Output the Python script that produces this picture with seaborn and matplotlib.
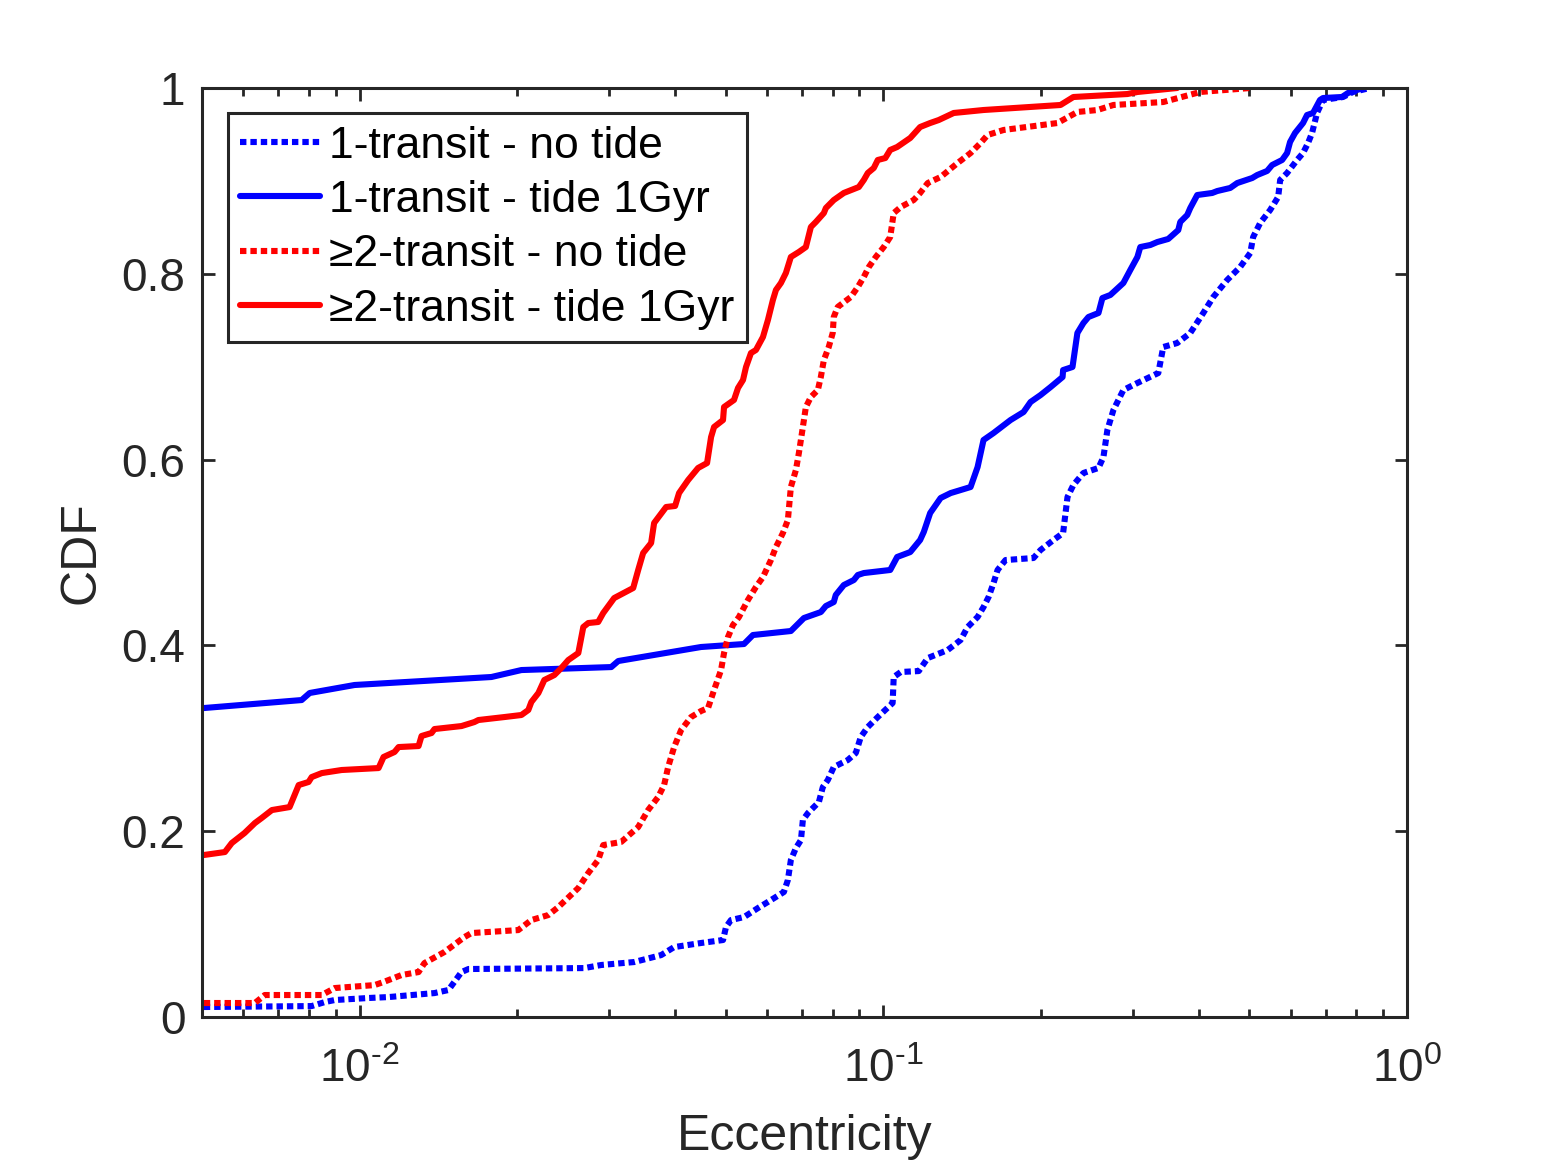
import matplotlib
matplotlib.use("Agg")
import matplotlib.pyplot as plt
import seaborn as sns
from matplotlib.ticker import LogLocator, NullFormatter, FixedLocator

# eccentricity / CDF values
ecc_1t_notide = [0.00504, 0.00810, 0.00858, 0.00896, 0.01040, 0.01136, 0.01390, 0.01478, 0.01565, 0.01614,
                 0.02685, 0.02892, 0.03344, 0.03766, 0.03987, 0.04488, 0.04943, 0.05008, 0.05119, 0.05420,
                 0.05763, 0.06102, 0.06460, 0.06574, 0.06661, 0.06810, 0.06963, 0.07022, 0.07181, 0.07534,
                 0.07667, 0.07836, 0.08044, 0.08554, 0.08862, 0.09058, 0.09342, 0.09761, 0.1042, 0.1047,
                 0.1080, 0.1169, 0.1216, 0.1327, 0.1405, 0.1449, 0.1514, 0.1554, 0.1589, 0.1624,
                 0.1653, 0.1712, 0.1936, 0.1997, 0.2114, 0.2205, 0.2248, 0.2307, 0.2411, 0.2576,
                 0.2633, 0.2679, 0.2751, 0.2874, 0.3057, 0.3351, 0.3425, 0.3642, 0.3857, 0.4084,
                 0.4267, 0.4536, 0.4803, 0.5021, 0.5086, 0.5245, 0.5481, 0.5677, 0.5727, 0.5904,
                 0.6169, 0.6333, 0.6474, 0.6589, 0.6735, 0.6914, 0.7548, 0.7889, 0.8502]
cdf_1t_notide = [0.0108, 0.0118, 0.0161, 0.0183, 0.0205, 0.0215, 0.0258, 0.0291, 0.0484, 0.0517,
                 0.0527, 0.0560, 0.0592, 0.0667, 0.0753, 0.0797, 0.0829, 0.0969, 0.1044, 0.1076,
                 0.1173, 0.1259, 0.1346, 0.1475, 0.1690, 0.1819, 0.1905, 0.2121, 0.2196, 0.2314,
                 0.2476, 0.2551, 0.2691, 0.2766, 0.2842, 0.3014, 0.3122, 0.3229, 0.3380, 0.3660,
                 0.3714, 0.3724, 0.3864, 0.3950, 0.4058, 0.4198, 0.4306, 0.4413, 0.4521, 0.4672,
                 0.4812, 0.4919, 0.4941, 0.5027, 0.5135, 0.5210, 0.5597, 0.5727, 0.5856, 0.5910,
                 0.6028, 0.6319, 0.6534, 0.6749, 0.6825, 0.6932, 0.7212, 0.7255, 0.7363, 0.7578,
                 0.7750, 0.7933, 0.8073, 0.8224, 0.8396, 0.8547, 0.8687, 0.8827, 0.9010, 0.9085,
                 0.9225, 0.9300, 0.9408, 0.9516, 0.9731, 0.9871, 0.9903, 0.9957, 1.0]

ecc_1t_tide = [0.00504, 0.00775, 0.00803, 0.00978, 0.01785, 0.02037, 0.03024, 0.03118, 0.04488, 0.05420,
               0.05638, 0.06661, 0.07055, 0.07599, 0.07769, 0.08044, 0.08115, 0.08407, 0.08786, 0.08942,
               0.09180, 0.1031, 0.1063, 0.1126, 0.1176, 0.1195, 0.1229, 0.1287, 0.1345, 0.1468,
               0.1514, 0.1554, 0.1624, 0.1750, 0.1853, 0.1911, 0.1997, 0.2087, 0.2200, 0.2205,
               0.2298, 0.2348, 0.2411, 0.2465, 0.2576, 0.2621, 0.2714, 0.2874, 0.2963, 0.3057,
               0.3096, 0.3236, 0.3337, 0.3501, 0.3659, 0.3691, 0.3806, 0.3857, 0.3977, 0.4248,
               0.4343, 0.4598, 0.4742, 0.5064, 0.5176, 0.5408, 0.5528, 0.5776, 0.5904, 0.5982,
               0.6115, 0.6333, 0.6445, 0.6617, 0.6823, 0.6914, 0.7516, 0.7716, 0.8243]
cdf_1t_tide = [0.3326, 0.3412, 0.3488, 0.3574, 0.3660, 0.3735, 0.3767, 0.3832, 0.3983, 0.4015,
               0.4112, 0.4155, 0.4295, 0.4359, 0.4424, 0.4467, 0.4543, 0.4650, 0.4704, 0.4758,
               0.4779, 0.4812, 0.4952, 0.5005, 0.5135, 0.5221, 0.5425, 0.5587, 0.5640, 0.5705,
               0.5920, 0.6211, 0.6286, 0.6426, 0.6512, 0.6620, 0.6695, 0.6781, 0.6889, 0.6964,
               0.6997, 0.7363, 0.7470, 0.7535, 0.7578, 0.7739, 0.7772, 0.7901, 0.8041, 0.8181,
               0.8288, 0.8310, 0.8342, 0.8375, 0.8471, 0.8558, 0.8633, 0.8708, 0.8848, 0.8870,
               0.8891, 0.8924, 0.8977, 0.9031, 0.9063, 0.9107, 0.9171, 0.9225, 0.9300, 0.9419,
               0.9516, 0.9623, 0.9709, 0.9731, 0.9871, 0.9892, 0.9903, 0.9946, 1.0]

ecc_2t_notide = [0.00504, 0.00631, 0.00659, 0.00847, 0.00896, 0.01068, 0.01111, 0.01202, 0.01296, 0.01330,
                 0.01452, 0.01586, 0.01635, 0.02009, 0.02128, 0.02293, 0.02396, 0.02616, 0.02733, 0.02855,
                 0.02919, 0.03158, 0.03404, 0.03556, 0.03716, 0.03815, 0.03883, 0.03987, 0.04111, 0.04295,
                 0.04488, 0.04628, 0.04752, 0.04900, 0.04965, 0.05052, 0.05164, 0.05302, 0.05515, 0.05713,
                 0.05892, 0.06102, 0.06238, 0.06432, 0.06574, 0.06661, 0.06810, 0.06900, 0.07022, 0.07115,
                 0.07274, 0.07500, 0.07599, 0.07701, 0.07868, 0.08007, 0.08044, 0.08185, 0.08670, 0.08942,
                 0.09180, 0.09384, 0.09676, 0.1002, 0.1031, 0.1047, 0.1080, 0.1143, 0.1176, 0.1216,
                 0.1287, 0.1387, 0.1468, 0.1534, 0.1582, 0.1697, 0.2151, 0.2348, 0.2564, 0.2751,
                 0.3425, 0.4030, 0.5021]
cdf_2t_notide = [0.0151, 0.0151, 0.0237, 0.0237, 0.0312, 0.0344, 0.0377, 0.0452, 0.0484, 0.0581,
                 0.0700, 0.0861, 0.0904, 0.0936, 0.1044, 0.1098, 0.1184, 0.1389, 0.1550, 0.1690,
                 0.1851, 0.1884, 0.2045, 0.2228, 0.2368, 0.2497, 0.2691, 0.2906, 0.3089, 0.3229,
                 0.3294, 0.3326, 0.3520, 0.3735, 0.3918, 0.4090, 0.4220, 0.4306, 0.4489, 0.4629,
                 0.4736, 0.4919, 0.5059, 0.5210, 0.5350, 0.5705, 0.5888, 0.6071, 0.6351, 0.6566,
                 0.6674, 0.6749, 0.6889, 0.7072, 0.7212, 0.7363, 0.7535, 0.7643, 0.7750, 0.7858,
                 0.7966, 0.8073, 0.8181, 0.8288, 0.8396, 0.8654, 0.8719, 0.8794, 0.8870, 0.8977,
                 0.9042, 0.9193, 0.9300, 0.9408, 0.9494, 0.9548, 0.9623, 0.9742, 0.9763, 0.9817,
                 0.9849, 0.9957, 1.0]

ecc_2t_tide = [0.00504, 0.00553, 0.00570, 0.00603, 0.00631, 0.00650, 0.00680, 0.00735, 0.00765, 0.00799,
               0.00810, 0.00847, 0.00924, 0.01087, 0.01111, 0.01166, 0.01187, 0.01296, 0.01313, 0.01372,
               0.01390, 0.01565, 0.01656, 0.01686, 0.01890, 0.02037, 0.02100, 0.02128, 0.02195, 0.02253,
               0.02354, 0.02428, 0.02504, 0.02616, 0.02674, 0.02733, 0.02855, 0.02919, 0.03063, 0.03330,
               0.03404, 0.03479, 0.03603, 0.03651, 0.03849, 0.04004, 0.04074, 0.04240, 0.04430, 0.04608,
               0.04690, 0.04752, 0.04943, 0.04965, 0.05187, 0.05280, 0.05397, 0.05469, 0.05589, 0.05713,
               0.05892, 0.06022, 0.06155, 0.06238, 0.06376, 0.06517, 0.06661, 0.06900, 0.07115, 0.07274,
               0.07435, 0.07701, 0.07769, 0.08044, 0.08407, 0.08981, 0.09180, 0.09342, 0.09592, 0.09761,
               0.1009, 0.1031, 0.1063, 0.1126, 0.1176, 0.1229, 0.1276, 0.1363, 0.1554, 0.2180,
               0.2307, 0.2925, 0.3057, 0.3642]
cdf_2t_tide = [0.1744, 0.1776, 0.1873, 0.1981, 0.2088, 0.2142, 0.2228, 0.2260, 0.2497, 0.2530,
               0.2583, 0.2626, 0.2659, 0.2680, 0.2799, 0.2853, 0.2906, 0.2917, 0.3025, 0.3057,
               0.3100, 0.3132, 0.3175, 0.3197, 0.3229, 0.3251, 0.3305, 0.3391, 0.3488, 0.3628,
               0.3681, 0.3757, 0.3843, 0.3918, 0.4198, 0.4241, 0.4252, 0.4349, 0.4510, 0.4618,
               0.4812, 0.4995, 0.5102, 0.5318, 0.5490, 0.5501, 0.5640, 0.5780, 0.5910, 0.5963,
               0.6243, 0.6351, 0.6426, 0.6566, 0.6642, 0.6771, 0.6857, 0.6997, 0.7147, 0.7180,
               0.7320, 0.7503, 0.7718, 0.7826, 0.7901, 0.8009, 0.8181, 0.8235, 0.8288, 0.8504,
               0.8558, 0.8654, 0.8708, 0.8794, 0.8870, 0.8934, 0.9010, 0.9085, 0.9139, 0.9225,
               0.9246, 0.9333, 0.9365, 0.9462, 0.9580, 0.9623, 0.9655, 0.9731, 0.9763, 0.9817,
               0.9903, 0.9935, 0.9957, 1.0]

labels = ["1-transit - no tide", "1-transit - tide 1Gyr",
          "\u22652-transit - no tide", "\u22652-transit - tide 1Gyr"]
xtick_vals = [0.01, 0.1, 1]
xtick_text = ['10$^{\\text{-2}}$', '10$^{\\text{-1}}$', '10$^{\\text{0}}$']

sns.set_style("ticks")
plt.rcParams['font.family'] = ['Liberation Sans', 'DejaVu Sans']
plt.rcParams['mathtext.fontset'] = 'custom'
plt.rcParams['mathtext.rm'] = 'Liberation Sans'
plt.rcParams['mathtext.default'] = 'regular'
plt.rcParams['axes.unicode_minus'] = False

dark = '#262626'
dot = (0, (1.05, 0.65))

fig = plt.figure(figsize=(15.56, 11.67), dpi=100)
ax = fig.add_axes([0.1298, 0.1285, 0.7744, 0.7961])

series = [
    (ecc_1t_notide, cdf_1t_notide, 'blue', dot),
    (ecc_1t_tide, cdf_1t_tide, 'blue', '-'),
    (ecc_2t_notide, cdf_2t_notide, 'red', dot),
    (ecc_2t_tide, cdf_2t_tide, 'red', '-'),
]
for (xs, ys, col, ls), lab in zip(series, labels):
    sns.lineplot(x=xs, y=ys, ax=ax, color=col, linestyle=ls, lw=4.4,
                 estimator=None, sort=False, label=lab)

ax.set_xscale('log')
ax.set_xlim(0.005, 1)
ax.set_ylim(0, 1)
ax.xaxis.set_major_locator(FixedLocator(xtick_vals))
ax.set_xticklabels(xtick_text)
ax.xaxis.set_minor_locator(LogLocator(base=10, subs=range(2, 10), numticks=20))
ax.xaxis.set_minor_formatter(NullFormatter())
ax.set_yticks([0, 0.2, 0.4, 0.6, 0.8, 1])
ax.set_yticklabels(['0', '0.2', '0.4', '0.6', '0.8', '1'])

for s in ax.spines.values():
    s.set_visible(True)
    s.set_color(dark)
    s.set_linewidth(2.2)

ax.tick_params(axis='both', which='both', direction='in', top=True, right=True,
               colors=dark, labelcolor=dark, labelsize=33)
ax.tick_params(axis='both', which='major', length=9, width=2)
ax.tick_params(axis='both', which='minor', length=5.5, width=2)
ax.tick_params(axis='x', which='major', pad=22)
ax.tick_params(axis='y', which='major', pad=12)

ax.set_xlabel('Eccentricity', fontsize=36, color=dark, labelpad=16)
ax.set_ylabel('CDF', fontsize=36, color=dark, labelpad=12)

leg = ax.legend(loc='upper left', bbox_to_anchor=(0.0216, 0.973), borderaxespad=0,
                fontsize=32, frameon=True, fancybox=False, framealpha=1,
                edgecolor=dark, handlelength=1.78, handletextpad=0.22,
                borderpad=0.28, labelspacing=0.3)
leg.get_frame().set_linewidth(2.2)
for t in leg.get_texts():
    t.set_color('black')

fig.savefig('out.png', dpi=100, facecolor='white')
